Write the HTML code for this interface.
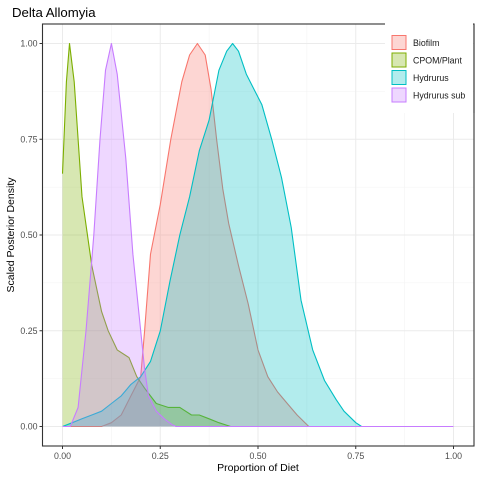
<!DOCTYPE html>
<html><head><meta charset="utf-8"><style>
body{margin:0;background:#fff;font-family:"Liberation Sans",sans-serif;}
</style></head><body>
<svg id="c" width="480" height="480" xmlns="http://www.w3.org/2000/svg"></svg>
<script>
const seriesNames=["Biofilm","CPOM/Plant","Hydrurus","Hydrurus sub"];
const colors=["#F8766D","#7CAE00","#00BFC4","#C77CFF"];
const biofilmX=[0,0.1,0.125,0.15,0.175,0.2,0.21,0.225,0.25,0.277,0.305,0.325,0.345,0.365,0.38,0.394,0.41,0.425,0.45,0.475,0.5,0.525,0.55,0.575,0.6,0.63,1.0];
const biofilmY=[0,0,0.01,0.03,0.08,0.13,0.25,0.45,0.58,0.75,0.9,0.97,1.0,0.97,0.88,0.75,0.62,0.53,0.42,0.32,0.2,0.13,0.09,0.06,0.03,0,0];
const cpomX=[0,0.01,0.018,0.03,0.05,0.075,0.1,0.117,0.14,0.17,0.19,0.21,0.24,0.27,0.3,0.33,0.35,0.375,0.4,0.43,1.0];
const cpomY=[0.66,0.9,1.0,0.9,0.6,0.42,0.3,0.25,0.2,0.18,0.13,0.1,0.06,0.05,0.05,0.03,0.03,0.02,0.01,0,0];
const hydX=[0,0.025,0.05,0.075,0.1,0.125,0.15,0.175,0.2,0.225,0.25,0.275,0.3,0.325,0.35,0.375,0.4,0.42,0.435,0.45,0.47,0.49,0.51,0.535,0.56,0.585,0.61,0.64,0.67,0.7,0.72,0.75,0.765,1.0];
const hydY=[0,0.01,0.02,0.03,0.04,0.06,0.08,0.11,0.13,0.17,0.25,0.38,0.5,0.6,0.72,0.8,0.93,0.98,1.0,0.98,0.92,0.88,0.84,0.75,0.65,0.52,0.33,0.2,0.12,0.07,0.04,0.01,0,0];
const subX=[0,0.02,0.04,0.06,0.08,0.096,0.11,0.125,0.14,0.162,0.18,0.2,0.21,0.22,0.24,0.26,0.28,0.29,1.0];
const subY=[0,0,0.05,0.25,0.5,0.75,0.93,1.0,0.92,0.7,0.45,0.25,0.15,0.08,0.04,0.02,0.005,0,0];
const xTicks=[0,0.25,0.5,0.75,1.0];
const xTickLabels=["0.00","0.25","0.50","0.75","1.00"];
const yTicks=[0,0.25,0.5,0.75,1.0];
const yTickLabels=["0.00","0.25","0.50","0.75","1.00"];

const NS="http://www.w3.org/2000/svg";
const svg=document.getElementById('c');
const L=42.5,R=474,T=24,B=446;
const sx=v=>62.5+v*391, sy=v=>426.5-v*383;
function el(t,a,p){const e=document.createElementNS(NS,t);for(const k in a)e.setAttribute(k,a[k]);(p||svg).appendChild(e);return e;}
for(let i=0;i<4;i++){const v=0.125+i*0.25;
 let g=el('line',{x1:sx(v),x2:sx(v),y1:T,y2:B,stroke:'#f3f3f3','stroke-width':0.6});
 
 g=el('line',{x1:L,x2:R,y1:sy(v),y2:sy(v),stroke:'#f3f3f3','stroke-width':0.6});
 }
xTicks.forEach((v,i)=>{
 let g=el('line',{x1:sx(v),x2:sx(v),y1:T,y2:B,stroke:'#ebebeb','stroke-width':1});
 
 g=el('line',{x1:sx(v),x2:sx(v),y1:B,y2:B+3,stroke:'#333','stroke-width':1});
 
 const t=el('text',{x:sx(v),y:B+13,'text-anchor':'middle','font-size':8.8,fill:'#4d4d4d'});t.textContent=xTickLabels[i];
 });
yTicks.forEach((v,i)=>{
 let g=el('line',{x1:L,x2:R,y1:sy(v),y2:sy(v),stroke:'#ebebeb','stroke-width':1});
 
 g=el('line',{x1:L-3,x2:L,y1:sy(v),y2:sy(v),stroke:'#333','stroke-width':1});
 
 const t=el('text',{x:L-5,y:sy(v)+3,'text-anchor':'end','font-size':8.8,fill:'#4d4d4d'});t.textContent=yTickLabels[i];
 });
const data=[[biofilmX,biofilmY],[cpomX,cpomY],[hydX,hydY],[subX,subY]];
data.forEach((d,i)=>{
 const xs=d[0],ys=d[1];
 let line='';xs.forEach((x,j)=>{line+=(j?'L':'M')+sx(x).toFixed(1)+','+sy(ys[j]).toFixed(1);});
 const area=line+'L'+sx(xs[xs.length-1]).toFixed(1)+','+sy(0)+'L'+sx(xs[0]).toFixed(1)+','+sy(0)+'Z';
 const a=el('path',{d:area,fill:colors[i],'fill-opacity':0.3,stroke:'none'});
 
 const p=el('path',{d:line,fill:'none',stroke:colors[i],'stroke-width':1.1,'stroke-linejoin':'round'});
 });
const bd=el('rect',{x:L,y:T,width:R-L,height:B-T,fill:'none',stroke:'#333','stroke-width':1.1});

const lg=el('g',{});

el('rect',{x:385,y:23,width:88,height:90,fill:'#fff'},lg);
el('line',{x1:R,x2:R,y1:T,y2:113,stroke:'#333','stroke-width':1.1},lg);
seriesNames.forEach((n,i)=>{
 const y=35+i*17.5;
 const g=el('g',{},lg);
 
 el('rect',{x:391.5,y:y,width:15,height:15,fill:'#fff'},g);
 el('rect',{x:392,y:y+0.5,width:14,height:14,fill:colors[i],'fill-opacity':0.3,stroke:colors[i],'stroke-width':1},g);
 const t=el('text',{x:413,y:y+11,'font-size':8.8,fill:'#1a1a1a'},g);t.textContent=n;});
let t=el('text',{x:12,y:17,'font-size':13.2,fill:'#000'});t.textContent='Delta Allomyia';

t=el('text',{x:258,y:471,'text-anchor':'middle','font-size':10.5,fill:'#000'});t.textContent='Proportion of Diet';

t=el('text',{x:0,y:0,'text-anchor':'middle','font-size':10.5,fill:'#000',transform:'translate(14,235) rotate(-90)'});t.textContent='Scaled Posterior Density';

</script>
</body></html>
